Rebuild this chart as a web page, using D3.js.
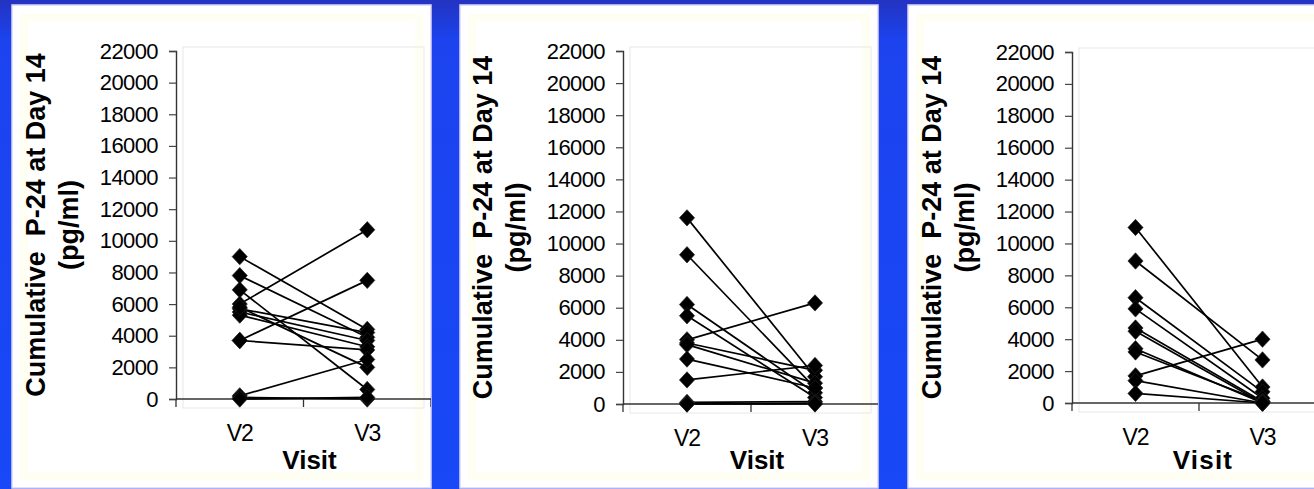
<!DOCTYPE html>
<html>
<head>
<meta charset="utf-8">
<script src="https://cdn.jsdelivr.net/npm/d3@7"></script>
<style>
  html, body { margin: 0; padding: 0; background: #1b46f2; }
  svg { display: block; }
  text { font-family: "Liberation Sans", Arial, sans-serif; fill: #000; }
</style>
</head>
<body>
<svg id="chart" width="1314" height="489"></svg>
<script>
// Visits on the category axis and the value ticks shared by all three panels
const visits = ["V2", "V3"];
const yTicks = [0, 2000, 4000, 6000, 8000, 10000, 12000, 14000, 16000, 18000, 20000, 22000];

// Cumulative P-24 (pg/ml) per subject, paired V2 -> V3, one pair of arrays per panel
const panelAV2 = [9000, 7800, 6900, 6000, 5700, 5500, 5300, 5800, 3700, 3700, 200, 100, 0];
const panelAV3 = [4400, 3900, 600, 10700, 4200, 3700, 3300, 2000, 7500, 3100, 2500, 0, 100];

const panelBV2 = [11600, 9300, 6200, 5500, 4000, 3800, 3700, 2800, 1500, 100, 0, 0];
const panelBV3 = [1700, 1000, 700, 400, 6300, 2100, 1300, 1000, 2400, 150, 50, 0];

const panelCV2 = [11000, 8900, 6600, 5900, 4700, 4500, 3400, 3200, 1700, 1400, 600];
const panelCV3 = [1000, 2700, 700, 300, 100, 0, 0, 100, 4000, 0, 0];

const yTitle = ["Cumulative  P-24 at Day 14", "(pg/ml)"];
const xTitle = "Visit";

const svg = d3.select("#chart");

// slide background
const defs = svg.append("defs");
const bg = defs.append("linearGradient").attr("id", "bg")
  .attr("x1", 0).attr("y1", 0).attr("x2", 0).attr("y2", 1);
bg.append("stop").attr("offset", "0%").attr("stop-color", "#2433c2");
bg.append("stop").attr("offset", "2%").attr("stop-color", "#2137cc");
bg.append("stop").attr("offset", "8%").attr("stop-color", "#1c43ee");
bg.append("stop").attr("offset", "100%").attr("stop-color", "#1848f7");
svg.append("rect").attr("width", 1314).attr("height", 489).attr("fill", "url(#bg)");

const panels = [
  { id: "a", v2: panelAV2, v3: panelAV3, left: 12, right: 431, axisX: 176, xEnd: 431, y0: 399, yTop: 51, titleShift: 6, titleSpacing: 0 },
  { id: "b", v2: panelBV2, v3: panelBV3, left: 460, right: 878, axisX: 623, xEnd: 879, y0: 404, yTop: 51, titleShift: 6, titleSpacing: 0 },
  { id: "c", v2: panelCV2, v3: panelCV3, left: 908, right: 1330, axisX: 1072, xEnd: 1326, y0: 403, yTop: 52, titleShift: 4, titleSpacing: 1.2 }
];

const panelTop = 5, panelBottom = 488;

panels.forEach(p => {
  const w = p.right - p.left, h = panelBottom - panelTop;

  defs.append("clipPath").attr("id", "clip-" + p.id)
    .append("rect").attr("x", p.left).attr("y", panelTop).attr("width", w).attr("height", h);

  // chart sheet with its pale frame
  svg.append("rect").attr("x", p.left).attr("y", panelTop).attr("width", w).attr("height", h)
    .attr("fill", "#ffffff").attr("stroke", "#dcd5fb").attr("stroke-width", 1.5);
  svg.append("rect").attr("x", p.left + 12).attr("y", panelTop + 12).attr("width", w - 24).attr("height", h - 24)
    .attr("fill", "none").attr("stroke", "#fffef3").attr("stroke-width", 8);

  const g = svg.append("g").attr("clip-path", "url(#clip-" + p.id + ")");

  const y = d3.scaleLinear().domain([0, 22000]).range([p.y0, p.yTop]);
  const x = d3.scaleBand().domain(visits).range([p.axisX, p.xEnd]).paddingInner(0).paddingOuter(0);
  const cx = v => x(v) + x.bandwidth() / 2;

  // plot-area frame
  g.append("rect")
    .attr("x", p.axisX + 7).attr("y", p.yTop - 4)
    .attr("width", p.right - p.axisX - 14).attr("height", p.y0 - p.yTop + 13)
    .attr("fill", "none").attr("stroke", "#e8e8e8").attr("stroke-width", 1);

  // value axis
  const yAxis = g.append("g").attr("transform", `translate(${p.axisX},0)`)
    .call(d3.axisLeft(y).tickValues(yTicks).tickSize(7).tickPadding(11).tickFormat(d3.format("d")));
  yAxis.select(".domain").attr("stroke", "#333").attr("stroke-width", 1.4);
  yAxis.selectAll(".tick line").attr("stroke", "#444").attr("stroke-width", 1.2);
  yAxis.selectAll(".tick text").attr("font-size", 22).attr("font-family", "Liberation Sans, Arial, sans-serif")
    .attr("fill", "#000").attr("letter-spacing", -0.6);

  // category axis: line at zero with ticks between categories
  g.append("line").attr("x1", p.axisX).attr("x2", p.xEnd).attr("y1", y(0)).attr("y2", y(0))
    .attr("stroke", "#333").attr("stroke-width", 1.4);
  const bounds = visits.map(v => x(v)).concat([x(visits[visits.length - 1]) + x.bandwidth()]);
  g.selectAll(".xtick").data(bounds).join("line").attr("class", "xtick")
    .attr("x1", d => d).attr("x2", d => d).attr("y1", y(0)).attr("y2", y(0) + 8)
    .attr("stroke", "#333").attr("stroke-width", 1.3);
  g.selectAll(".xlab").data(visits).join("text").attr("class", "xlab")
    .attr("x", d => cx(d)).attr("y", y(0) + 42)
    .attr("text-anchor", "middle").attr("font-size", 23).attr("letter-spacing", -1)
    .text(d => d);

  // axis titles
  const mid = (p.axisX + p.xEnd) / 2;
  g.append("text").attr("x", mid + p.titleShift).attr("y", 469)
    .attr("text-anchor", "middle").attr("font-size", 26).attr("font-weight", "bold")
    .attr("letter-spacing", p.titleSpacing).text(xTitle);

  const yt = g.append("text")
    .attr("transform", `translate(${p.axisX - 131},${(p.y0 + p.yTop) / 2}) rotate(-90)`)
    .attr("text-anchor", "middle").attr("font-size", 27).attr("font-weight", "bold");
  yt.append("tspan").attr("x", 0).attr("dy", 0).style("white-space", "pre").text(yTitle[0]);
  yt.append("tspan").attr("x", 0).attr("dy", 33).text(yTitle[1]);

  // paired subject lines
  const pairs = p.v2.map((v, i) => ({ a: v, b: p.v3[i] }));
  g.selectAll(".pair").data(pairs).join("line").attr("class", "pair")
    .attr("x1", cx("V2")).attr("y1", d => y(d.a))
    .attr("x2", cx("V3")).attr("y2", d => y(d.b))
    .attr("stroke", "#000").attr("stroke-width", 1.7);

  // diamond markers
  const diamond = d3.symbol(d3.symbolSquare, 115)();
  const pts = p.v2.map(v => ({ k: "V2", v })).concat(p.v3.map(v => ({ k: "V3", v })));
  g.selectAll(".mk").data(pts).join("path").attr("class", "mk")
    .attr("d", diamond)
    .attr("transform", d => `translate(${cx(d.k)},${y(d.v)}) scale(1,1.08) rotate(45)`)
    .attr("fill", "#000").attr("stroke", "#222").attr("stroke-width", 0.6);
});
</script>
</body>
</html>
